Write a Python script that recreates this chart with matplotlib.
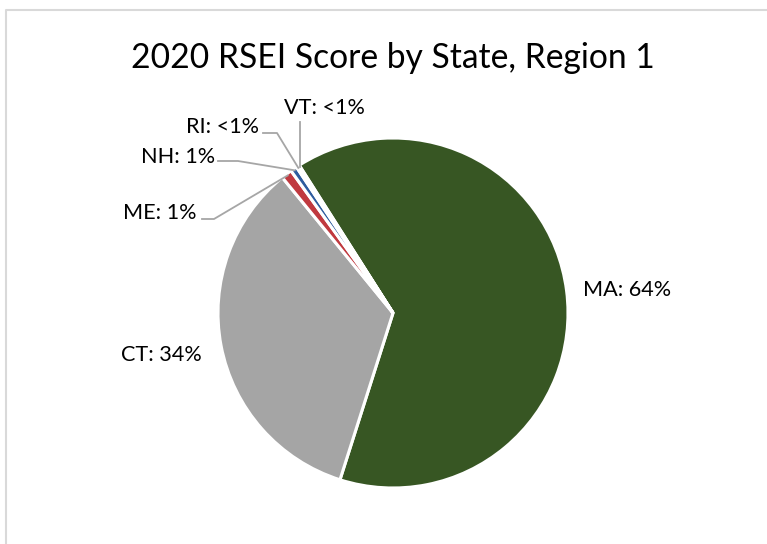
import numpy as np
import matplotlib.pyplot as plt

# share of 2020 RSEI score, percent
states = ['MA', 'CT', 'ME', 'NH', 'RI', 'VT']
shares = [63.9, 34.2, 1.0, 0.6, 0.2, 0.1]
label_texts = ['MA: 64%', 'CT: 34%', 'ME: 1%', 'NH: 1%', 'RI: <1%', 'VT: <1%']
colors = ['#375623', '#A5A5A5', '#C0393F', '#2E5C9E', '#E8C34A', '#7FA3D1']

plt.rcParams['font.family'] = ['Lato', 'DejaVu Sans']

W, H = 767, 544
fig = plt.figure(figsize=(W / 100, H / 100), dpi=100)
ax = fig.add_axes([0, 0, 1, 1])

# pie centre and radius in pixels (y measured from the bottom)
cx, cy, R = 393, H - 313, 175
wedges, _ = ax.pie(shares, colors=colors, startangle=122.4, counterclock=False,
                   center=(cx, cy), radius=R, frame=True,
                   wedgeprops=dict(edgecolor='white', linewidth=2.2))
ax.set_xlim(0, W)
ax.set_ylim(0, H)
ax.set_aspect('equal')
ax.axis('off')

# chart border (only top and left edge are visible)
ax.plot([5.5, 5.5, W], [0, H - 10, H - 10], color='#D9D9D9', lw=1.5, clip_on=False)

ax.text(cx, H - 58, '2020 RSEI Score by State, Region 1', ha='center', va='center',
        fontsize=24.2, color='black')

# label positions (pixels from top) and leader line start points
label_pos = {'MA': (627, 290), 'CT': (161, 355), 'ME': (160, 213),
             'NH': (178, 157), 'RI': (222, 127), 'VT': (324, 108)}
leader_start = {'ME': [(202, 219), (214, 219)], 'NH': [(218, 161), (238, 161)],
                'RI': [(263, 133), (277, 133)]}

for w, st, txt in zip(wedges, states, label_texts):
    lx, ly = label_pos[st]
    ax.text(lx, H - ly, txt, ha='center', va='center', fontsize=15.6, color='black')
    mid = np.deg2rad((w.theta1 + w.theta2) / 2)
    ex, ey = cx + R * 0.99 * np.cos(mid), cy + R * 0.99 * np.sin(mid)
    if st in leader_start:
        pts = leader_start[st]
        xs = [p[0] for p in pts] + [ex]
        ys = [H - p[1] for p in pts] + [ey]
        ax.plot(xs, ys, color='#A6A6A6', lw=1.3)
    elif st == 'VT':
        ax.plot([ex, ex], [H - 122, ey], color='#A6A6A6', lw=1.3)

fig.savefig('out.png', dpi=100)
